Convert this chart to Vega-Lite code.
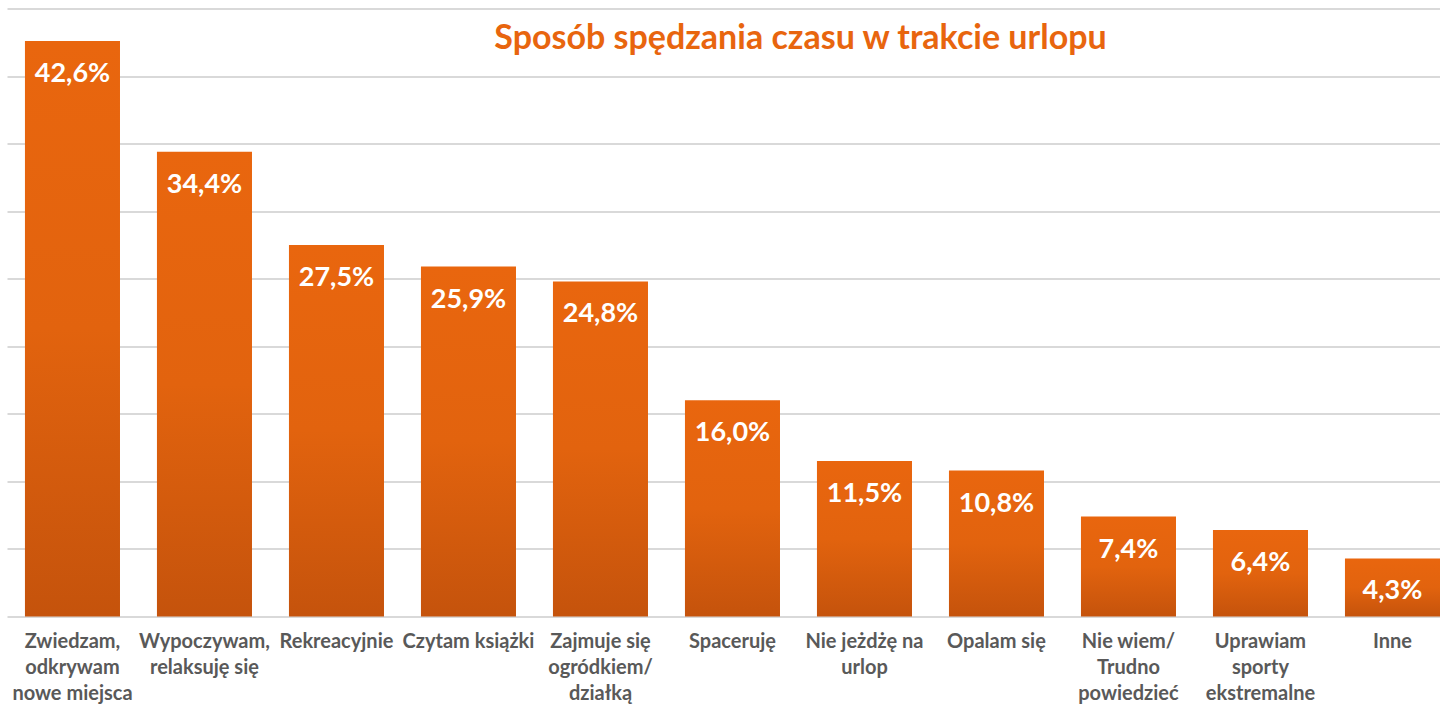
{
  "$schema": "https://vega.github.io/schema/vega-lite/v6.json",
  "width": 1433,
  "height": 608,
  "autosize": {"type": "none"},
  "padding": {"left": 7, "top": 8.5, "right": 0, "bottom": 89.5},
  "background": "white",
  "config": {
    "view": {"stroke": null},
    "locale": {"number": {"decimal": ",", "thousands": " ", "grouping": [3], "currency": ["", " zł"]}}
  },
  "title": {
    "text": "Sposób spędzania czasu w trakcie urlopu",
    "orient": "top",
    "anchor": "middle",
    "frame": "group",
    "offset": -47,
    "baseline": "alphabetic",
    "dx": 77,
    "dy": 27,
    "font": "Lato",
    "fontSize": 34,
    "fontWeight": "bold",
    "color": "#E8650E"
  },
  "data": {
    "values": [
      {"kategoria": "Zwiedzam,\nodkrywam\nnowe miejsca", "udzial": 0.426},
      {"kategoria": "Wypoczywam,\nrelaksuję się", "udzial": 0.344},
      {"kategoria": "Rekreacyjnie", "udzial": 0.275},
      {"kategoria": "Czytam książki", "udzial": 0.259},
      {"kategoria": "Zajmuje się\nogródkiem/\ndziałką", "udzial": 0.248},
      {"kategoria": "Spaceruję", "udzial": 0.160},
      {"kategoria": "Nie jeżdżę na\nurlop", "udzial": 0.115},
      {"kategoria": "Opalam się", "udzial": 0.108},
      {"kategoria": "Nie wiem/\nTrudno\npowiedzieć", "udzial": 0.074},
      {"kategoria": "Uprawiam\nsporty\nekstremalne", "udzial": 0.064},
      {"kategoria": "Inne", "udzial": 0.043}
    ]
  },
  "encoding": {
    "x": {
      "field": "kategoria",
      "type": "nominal",
      "sort": null,
      "scale": {"paddingInner": 0.28, "paddingOuter": 0.068, "align": 1},
      "axis": {
        "title": null,
        "domain": false,
        "ticks": false,
        "labelAngle": 0,
        "labelFont": "Lato",
        "labelFontSize": 20,
        "labelFontWeight": "bold",
        "labelColor": "#595959",
        "labelPadding": 15,
        "labelLineHeight": 26,
        "labelLimit": 0,
        "labelOverlap": false,
        "labelExpr": "split(datum.value, '\\n')"
      }
    },
    "y": {
      "field": "udzial",
      "type": "quantitative",
      "scale": {"domain": [0, 0.45], "nice": false},
      "axis": {
        "title": null,
        "labels": false,
        "ticks": false,
        "domain": false,
        "grid": true,
        "gridColor": "#D9D9D9",
        "gridWidth": 2,
        "values": [0, 0.05, 0.1, 0.15, 0.2, 0.25, 0.3, 0.35, 0.4, 0.45]
      }
    }
  },
  "layer": [
    {
      "mark": {
        "type": "bar",
        "color": {
          "gradient": "linear",
          "x1": 0, "y1": 0, "x2": 0, "y2": 1,
          "stops": [
            {"offset": 0, "color": "#E9660E"},
            {"offset": 0.5, "color": "#E2630E"},
            {"offset": 1, "color": "#C5530C"}
          ]
        }
      }
    },
    {
      "mark": {
        "type": "text",
        "baseline": "alphabetic",
        "dy": 41,
        "color": "white",
        "font": "Lato",
        "fontWeight": "bold",
        "fontSize": 27
      },
      "encoding": {"text": {"field": "udzial", "type": "quantitative", "format": ".1%"}}
    }
  ]
}
